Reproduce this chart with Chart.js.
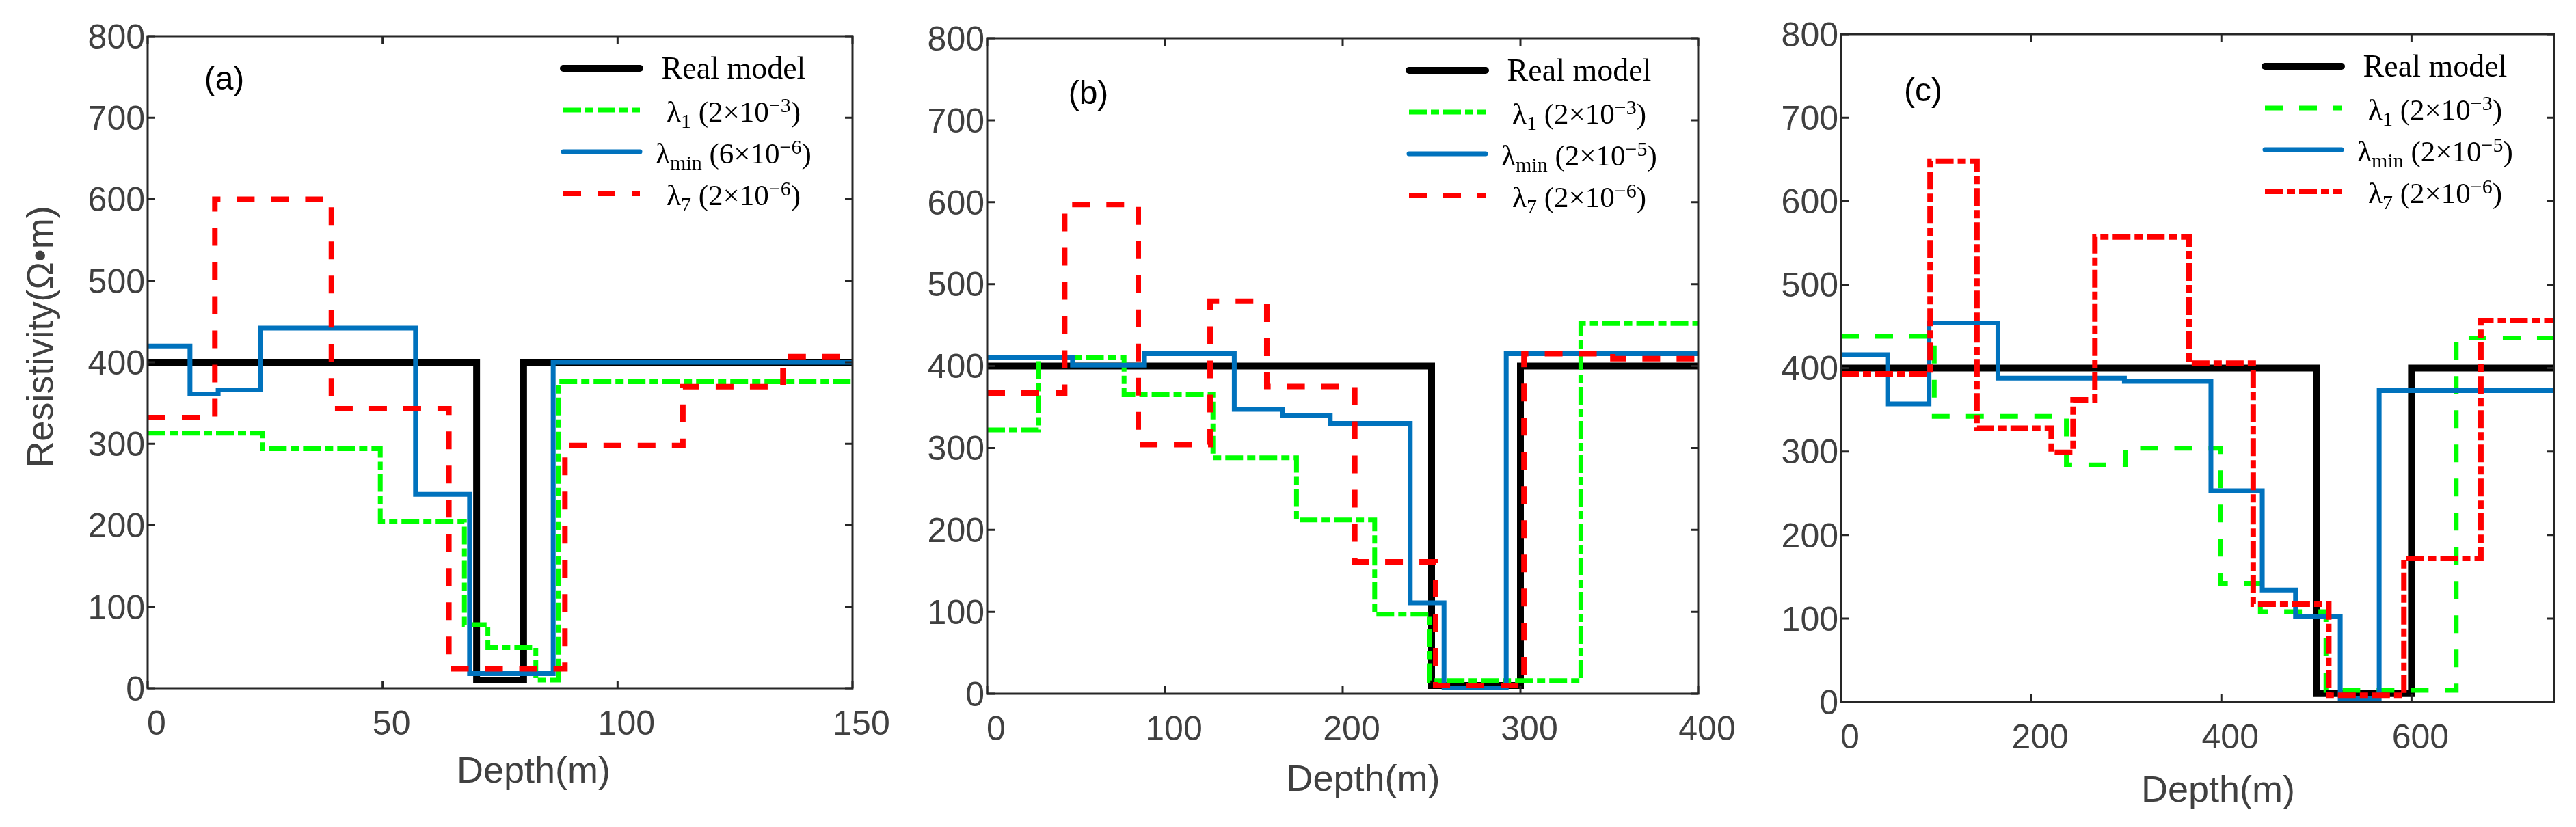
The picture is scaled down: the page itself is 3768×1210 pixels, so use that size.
<!DOCTYPE html>
<html>
<head>
<meta charset="utf-8">
<script src="https://cdn.jsdelivr.net/npm/chart.js@4.4.1/dist/chart.umd.min.js"></script>
<style>
  html, body { margin: 0; padding: 0; background: #fff; }
  body { width: 3768px; height: 1210px; position: relative; overflow: hidden; }
  .panel { position: absolute; top: 0; height: 1210px; }
</style>
</head>
<body>
<div class="panel" style="left:0;width:1330px"><canvas id="chartA"></canvas></div>
<div class="panel" style="left:1250px;width:1340px"><canvas id="chartB"></canvas></div>
<div class="panel" style="left:2508px;width:1260px"><canvas id="chartC"></canvas></div>
<script>
// Resistivity step models vs depth, three panels

// ---- data: layer top depth (m) and resistivity (ohm*m), last point closes the step ----
// (a)
const realDepthA = [0, 70, 80, 150];
const realResA   = [400, 10, 400, 400];
const lam1DepthA = [0, 24.5, 49.5, 67.4, 72.4, 82.6, 87.5, 150];
const lam1ResA   = [313, 294, 205, 78, 50, 10, 376, 376];
const lminDepthA = [0, 9, 15, 24, 57, 68.5, 86.3, 150];
const lminResA   = [420, 361, 366, 442, 238, 18, 400, 400];
const lam7DepthA = [0, 14.3, 39.1, 64.1, 88.8, 113.9, 135.2, 150];
const lam7ResA   = [332, 600, 343, 24, 298, 370, 407, 407];

// (b)
const realDepthB = [0, 250, 300, 400];
const realResB   = [400, 10, 400, 400];
const lam1DepthB = [0, 29, 77, 127, 174, 218, 249, 334, 400];
const lam1ResB   = [322, 410, 365, 288, 212, 97, 16, 452, 452];
const lminDepthB = [0, 48, 88.5, 139, 166, 193, 238, 257, 292, 400];
const lminResB   = [410, 401, 415, 347, 340, 330, 111, 7, 415, 415];
const lam7DepthB = [0, 43.6, 85, 125.4, 157.3, 206.8, 252.3, 302, 352, 400];
const lam7ResB   = [367, 597, 304, 479, 375, 161, 10, 415, 409, 409];

// (c)
const realDepthC = [0, 500, 600, 750];
const realResC   = [400, 10, 400, 400];
const lam1DepthC = [0, 98, 237, 299, 399, 441, 510, 647, 750];
const lam1ResC   = [438, 342, 284, 304, 142, 108, 14, 436, 436];
const lminDepthC = [0, 49, 92.5, 165, 298, 389, 443, 478, 525, 566, 750];
const lminResC   = [416, 357, 454, 388, 384, 253, 134, 102, 4, 373, 373];
const lam7DepthC = [0, 93.6, 143, 221, 244, 267, 366, 433.5, 513, 592, 673, 750];
const lam7ResC   = [393, 648, 328, 299, 362, 557, 406, 117, 8, 172, 457, 457];

// ticks
const xTicksA = [0, 50, 100, 150];
const xTicksB = [0, 100, 200, 300, 400];
const xTicksC = [0, 200, 400, 600];
const yTicks  = [0, 100, 200, 300, 400, 500, 600, 700, 800];

// legend text
const lambdaSubs = ['1', 'min', '7'];
const coefA  = ['2', '6', '2'];
const expA   = ['\u22123', '\u22126', '\u22126'];
const coefBC = ['2', '2', '2'];
const expBC  = ['\u22123', '\u22125', '\u22126'];

// ---- styles ----
const SANS = "'Liberation Sans', Arial, sans-serif";
const SERIF = "'Liberation Serif', 'Times New Roman', serif";
const LABEL_GREY = '#404040';
const AXIS_COLOR = '#262626';
const TICK_LEN = 11;
const DASHED = [26, 24];
const DASHDOT = [26, 6, 12, 6];

const BLACK = '#000000', GREEN = '#00ff00', BLUE = '#0072bd', RED = '#ff0000';

function pts(xs, ys) {
  return xs.map((x, i) => ({ x, y: ys[i] }));
}

function lambdaParts(sub, coef, exp) {
  return [{ t: '\u03bb' }, { t: sub, k: 'sub' }, { t: ' (' + coef + '\u00d710' }, { t: exp, k: 'sup' }, { t: ')' }];
}

function series(label, parts, xs, ys, color, width, dash, order) {
  return {
    label,
    legendParts: parts,
    data: pts(xs, ys),
    borderColor: color,
    backgroundColor: color,
    borderWidth: width,
    borderDash: dash,
    stepped: 'before',
    pointRadius: 0,
    fill: false,
    order,
  };
}

// inward ticks and full box like the original axes
const framePlugin = {
  id: 'frame',
  afterDraw(chart) {
    const { ctx, chartArea: a, scales: { x, y } } = chart;
    ctx.save();
    ctx.strokeStyle = AXIS_COLOR;
    ctx.lineWidth = 3;
    ctx.setLineDash([]);
    ctx.strokeRect(a.left, a.top, a.right - a.left, a.bottom - a.top);
    ctx.beginPath();
    x.ticks.forEach(t => {
      const px = x.getPixelForValue(t.value);
      ctx.moveTo(px, a.bottom); ctx.lineTo(px, a.bottom - TICK_LEN);
      ctx.moveTo(px, a.top); ctx.lineTo(px, a.top + TICK_LEN);
    });
    y.ticks.forEach(t => {
      const py = y.getPixelForValue(t.value);
      ctx.moveTo(a.left, py); ctx.lineTo(a.left + TICK_LEN, py);
      ctx.moveTo(a.right, py); ctx.lineTo(a.right - TICK_LEN, py);
    });
    ctx.stroke();
    ctx.restore();
  }
};

function partFont(p, size) {
  const s = p.k ? Math.round(size * 0.7) : size;
  return s + 'px ' + SERIF;
}

function drawRich(ctx, parts, cx, baseline, size) {
  let total = 0;
  parts.forEach(p => {
    ctx.font = partFont(p, size);
    p.w = ctx.measureText(p.t).width;
    total += p.w;
  });
  let x = cx - total / 2;
  parts.forEach(p => {
    ctx.font = partFont(p, size);
    const dy = p.k === 'sub' ? size * 0.2 : p.k === 'sup' ? -size * 0.33 : 0;
    ctx.fillText(p.t, x, baseline + dy);
    x += p.w;
  });
}

// axis titles, legend inside the top right corner, panel letter
const panelLegend = {
  id: 'panelLegend',
  afterDraw(chart, args, opts) {
    const { ctx, chartArea: a } = chart;
    ctx.save();
    ctx.textAlign = 'center';
    ctx.textBaseline = 'middle';

    ctx.fillStyle = LABEL_GREY;
    ctx.font = '54px ' + SANS;
    ctx.fillText('Depth(m)', (a.left + a.right) / 2 + opts.titleDx, a.bottom + opts.titleDy);
    if (opts.yTitle) {
      ctx.save();
      ctx.translate(62, 493);
      ctx.rotate(-Math.PI / 2);
      ctx.fillText('Resistivity(\u03a9\u2022m)', 0, 0);
      ctx.restore();
    }

    ctx.fillStyle = '#000';
    ctx.font = '48px ' + SANS;
    ctx.fillText(opts.letter, a.left + opts.letterX, a.top + opts.letterY);

    const ds = chart.data.datasets;
    ds.forEach((d, i) => {
      const y = a.top + 47 + i * 61;
      ctx.beginPath();
      ctx.strokeStyle = d.borderColor;
      ctx.lineWidth = d.borderWidth;
      ctx.setLineDash(d.borderDash);
      ctx.lineCap = d.borderDash.length ? 'butt' : 'round';
      ctx.moveTo(a.right - 423, y);
      ctx.lineTo(a.right - 311, y);
      ctx.stroke();

      ctx.fillStyle = '#000';
      ctx.textAlign = 'left';
      ctx.textBaseline = 'alphabetic';
      const big = i === 0;
      drawRich(ctx, d.legendParts.map(p => ({ ...p })), a.right - 174, y + (big ? 15 : 17), big ? 46 : 43);
    });
    ctx.restore();
  }
};

function makePanel(id, p) {
  return new Chart(document.getElementById(id), {
    type: 'line',
    data: { datasets: p.datasets },
    options: {
      responsive: true,
      maintainAspectRatio: false,
      animation: false,
      devicePixelRatio: 1,
      layout: { padding: { top: p.top, right: p.padRight, bottom: 0, left: 0 } },
      plugins: {
        legend: { display: false },
        tooltip: { enabled: false },
        panelLegend: {
          letter: p.letter, letterX: p.letterX, letterY: p.letterY,
          titleDx: p.titleDx, titleDy: p.titleDy, yTitle: p.yTitle,
        },
      },
      scales: {
        x: {
          type: 'linear',
          min: 0,
          max: p.xMax,
          afterBuildTicks: s => { s.ticks = p.xTicks.map(v => ({ value: v })); },
          afterFit: s => { s.height = p.xAxisH; },
          grid: { display: false, drawTicks: false },
          border: { display: false },
          ticks: {
            autoSkip: false, maxRotation: 0, padding: 24, labelOffset: 13,
            color: LABEL_GREY, font: { family: SANS, size: 50 },
          },
        },
        y: {
          type: 'linear',
          min: 0,
          max: 800,
          afterBuildTicks: s => { s.ticks = yTicks.map(v => ({ value: v })); },
          afterFit: s => { s.width = p.yAxisW; },
          grid: { display: false, drawTicks: false },
          border: { display: false },
          ticks: {
            padding: 4, labelOffset: 4,
            color: LABEL_GREY, font: { family: SANS, size: 50 },
          },
        },
      },
    },
    plugins: [framePlugin, panelLegend],
  });
}

makePanel('chartA', {
  letter: '(a)', letterX: 112, letterY: 65,
  top: 53, padRight: 83, xAxisH: 203, yAxisW: 216, titleDx: 49, titleDy: 123, yTitle: true,
  xMax: 150, xTicks: xTicksA,
  datasets: [
    series('Real model', [{ t: 'Real model' }], realDepthA, realResA, BLACK, 10, [], 4),
    series('lambda1', lambdaParts(lambdaSubs[0], coefA[0], expA[0]), lam1DepthA, lam1ResA, GREEN, 7, DASHDOT, 3),
    series('lambdamin', lambdaParts(lambdaSubs[1], coefA[1], expA[1]), lminDepthA, lminResA, BLUE, 7, [], 2),
    series('lambda7', lambdaParts(lambdaSubs[2], coefA[2], expA[2]), lam7DepthA, lam7ResA, RED, 8, DASHED, 1),
  ],
});

makePanel('chartB', {
  letter: '(b)', letterX: 148, letterY: 83,
  top: 56, padRight: 106, xAxisH: 195, yAxisW: 194, titleDx: 30, titleDy: 127, yTitle: false,
  xMax: 400, xTicks: xTicksB,
  datasets: [
    series('Real model', [{ t: 'Real model' }], realDepthB, realResB, BLACK, 10, [], 4),
    series('lambda1', lambdaParts(lambdaSubs[0], coefBC[0], expBC[0]), lam1DepthB, lam1ResB, GREEN, 7, DASHDOT, 3),
    series('lambdamin', lambdaParts(lambdaSubs[1], coefBC[1], expBC[1]), lminDepthB, lminResB, BLUE, 7, [], 2),
    series('lambda7', lambdaParts(lambdaSubs[2], coefBC[2], expBC[2]), lam7DepthB, lam7ResB, RED, 8, DASHED, 1),
  ],
});

makePanel('chartC', {
  letter: '(c)', letterX: 120, letterY: 85,
  top: 50, padRight: 32, xAxisH: 183, yAxisW: 185, titleDx: 30, titleDy: 131, yTitle: false,
  xMax: 750, xTicks: xTicksC,
  datasets: [
    series('Real model', [{ t: 'Real model' }], realDepthC, realResC, BLACK, 10, [], 4),
    series('lambda1', lambdaParts(lambdaSubs[0], coefBC[0], expBC[0]), lam1DepthC, lam1ResC, GREEN, 7, DASHED, 3),
    series('lambdamin', lambdaParts(lambdaSubs[1], coefBC[1], expBC[1]), lminDepthC, lminResC, BLUE, 7, [], 2),
    series('lambda7', lambdaParts(lambdaSubs[2], coefBC[2], expBC[2]), lam7DepthC, lam7ResC, RED, 8, DASHDOT, 1),
  ],
});
</script>
</body>
</html>
